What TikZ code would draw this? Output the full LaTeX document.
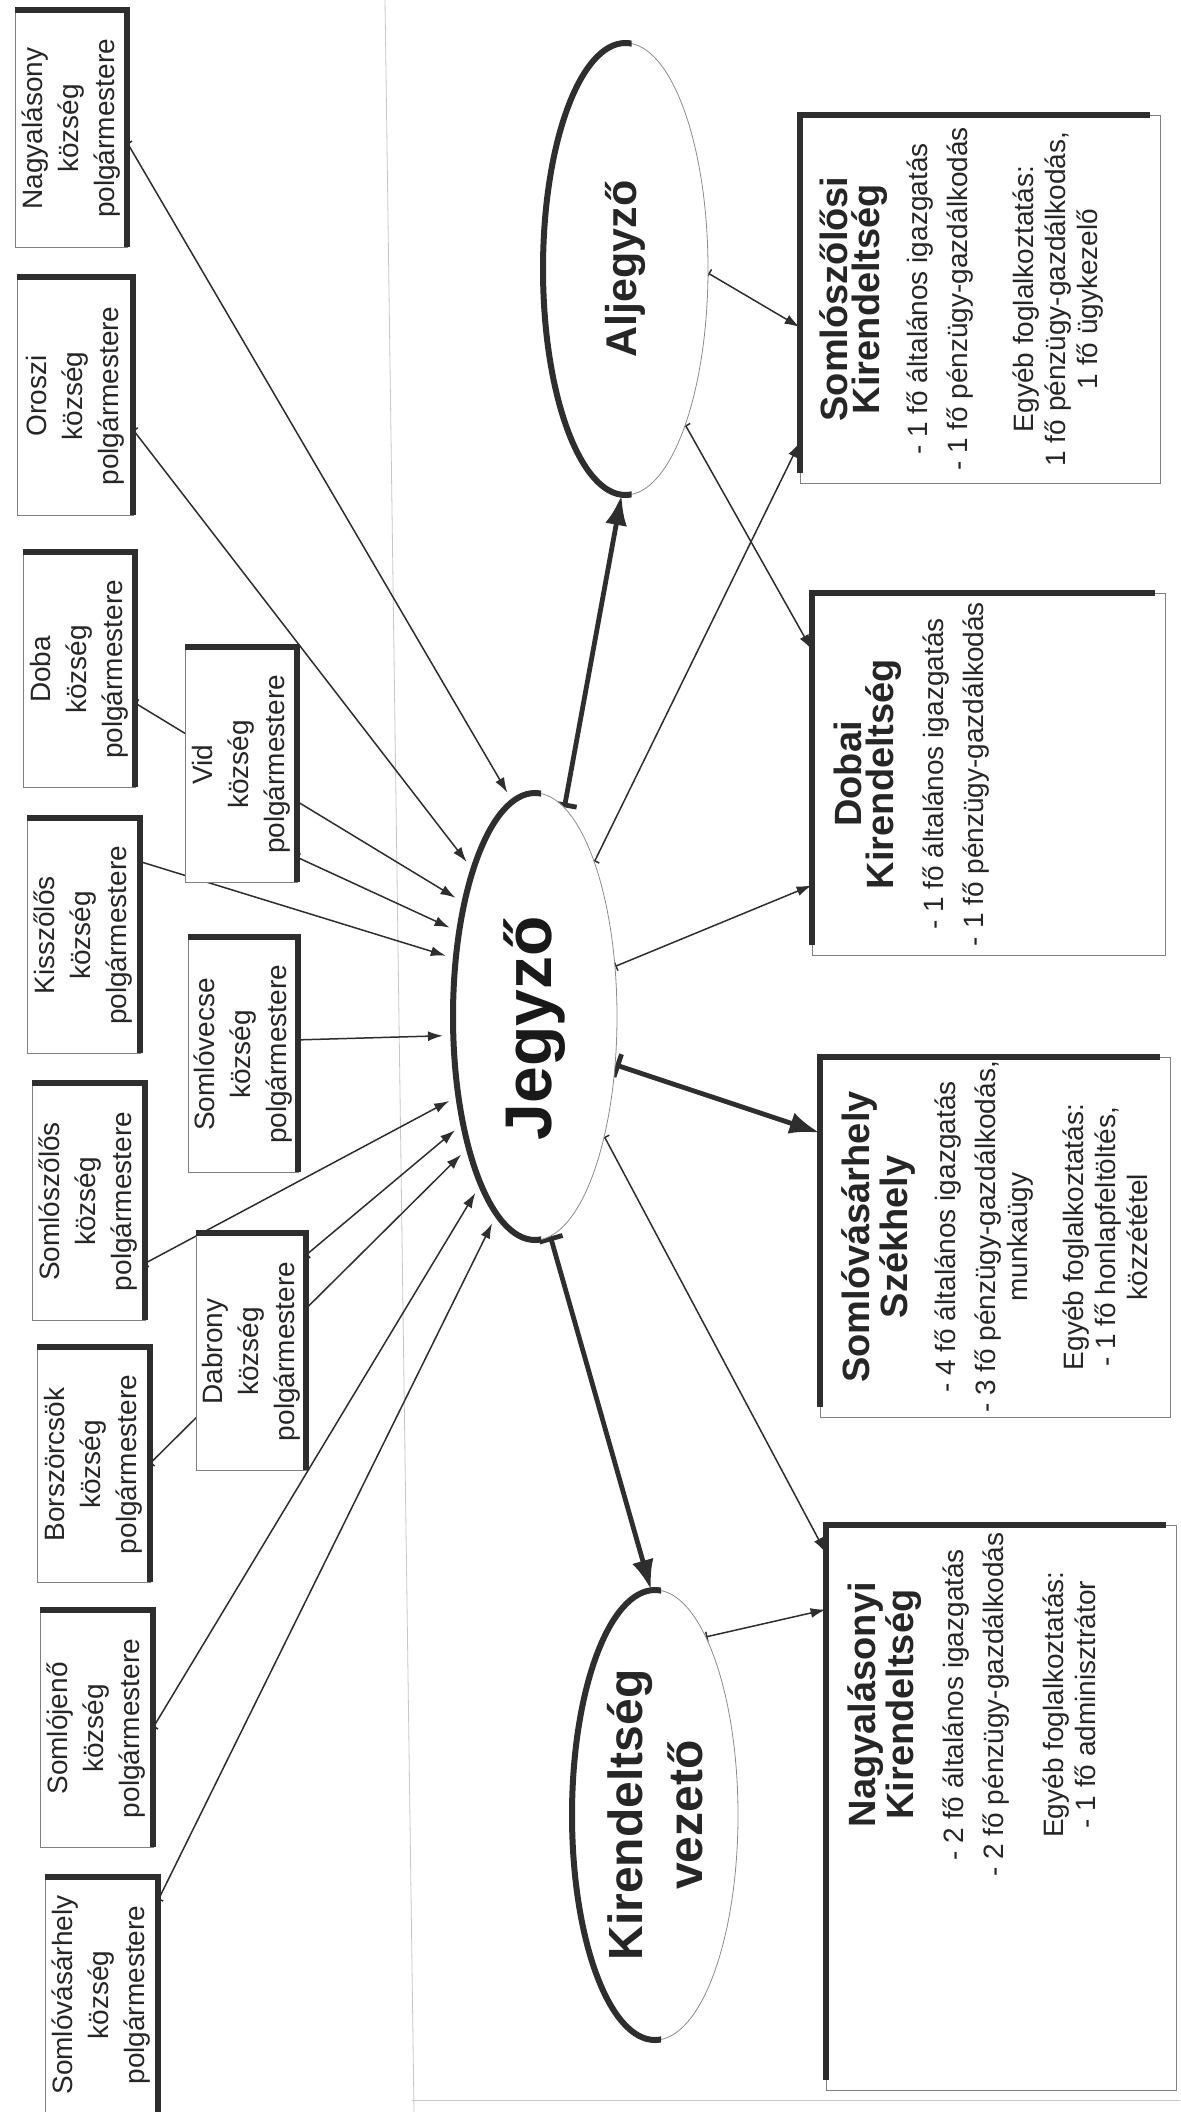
\documentclass[tikz,border=0pt]{standalone}
\usepackage{fontspec}
\setmainfont{Liberation Sans}
\usetikzlibrary{shapes.geometric,arrows.meta,calc}
\pgfdeclarelayer{background}
\pgfsetlayers{background,main}
\newcommand\rbTitle{\bfseries\fontsize{19}{19.5}\selectfont}
\newcommand\rbBody{\normalfont\fontsize{14}{16}\selectfont}
\begin{document}
\begin{tikzpicture}[x=0.5pt,y=-0.5pt,
  mbox/.style={rectangle, draw=black!50, line width=0.4pt, fill=white, inner sep=0pt},
  mtext/.style={rotate=90, align=center, text=black!85, font=\fontsize{14}{18}\selectfont},
  rbox/.style={rectangle, draw=black!50, line width=0.4pt, fill=white, inner sep=0pt},
  rtext/.style={rotate=90, align=center, anchor=north, text=black!85, font=\rbBody, inner sep=0pt},
  oval/.style={ellipse, draw=black!45, line width=0.4pt, fill=white, inner sep=0pt},
  shadeline/.style={draw=black!82, line width=3pt},
  conn/.style={draw=black!82, line width=0.75pt, {Bar[width=5pt]}-{Latex[length=7.5pt,width=5pt]}},
  bigconn/.style={draw=black!82, line width=2.4pt, {Bar[width=12pt,line width=2.4pt]}-{Latex[length=15pt,width=11pt]}},
  pageline/.style={draw=black!22, line width=0.4pt},
]
\useasboundingbox (0,0) rectangle (1180,2112);

% ---------- ellipses ----------
\node[oval, minimum width=82.5pt, minimum height=226pt,
  label={[rotate=90, text=black!85, font=\bfseries\fontsize{21.5}{24}\selectfont]center:Aljegyző}] (alj) at (625.5,269) {};
\node[oval, minimum width=82pt, minimum height=223.5pt,
  label={[rotate=90, xshift=-6pt, text=black!90, font=\bfseries\fontsize{33}{36}\selectfont]center:Jegyző}] (jeg) at (535,1016.5) {};
\node[oval, minimum width=83pt, minimum height=225pt,
  label={[rotate=90, align=center, text=black!85, font=\bfseries\fontsize{24}{30}\selectfont]center:{Kirendeltség\\vezető}}] (vez) at (655,1815) {};

\foreach \e/\rx/\ry in {alj/41.25pt/113pt, jeg/41pt/111.75pt, vez/41.5pt/112.5pt}{
  \begin{scope}
    \clip ($(\e.center)+(6,-250)$) rectangle ($(\e.center)+(-110,250)$);
    \draw[draw=black!82, line width=3pt] (\e.center) ellipse [x radius=\rx, y radius=\ry];
  \end{scope}
}

% ---------- mayor boxes ----------
\node[mbox, minimum width=56pt, minimum height=118.5pt, label={[mtext]center:{Nagyalásony\\község\\polgármestere}}] (nag) at (71,128.5) {};
\node[mbox, minimum width=58pt, minimum height=119pt, label={[mtext]center:{Oroszi\\község\\polgármestere}}] (oro) at (75,396) {};
\node[mbox, minimum width=56pt, minimum height=117.5pt, label={[mtext]center:{Doba\\község\\polgármestere}}] (dob) at (79,669.5) {};
\node[mbox, minimum width=56.5pt, minimum height=117.5pt, label={[mtext]center:{Kisszőlős\\község\\polgármestere}}] (kis) at (83.5,935.5) {};
\node[mbox, minimum width=56.5pt, minimum height=118.5pt, label={[mtext]center:{Somlószőlős\\község\\polgármestere}}] (ssz) at (88.5,1201.5) {};
\node[mbox, minimum width=56.5pt, minimum height=117.5pt, label={[mtext]center:{Borszörcsök\\község\\polgármestere}}] (bor) at (93.5,1464.5) {};
\node[mbox, minimum width=56.5pt, minimum height=118.5pt, label={[mtext]center:{Somlójenő\\község\\polgármestere}}] (sje) at (96.5,1728.5) {};
\node[mbox, minimum width=56.5pt, minimum height=118pt, label={[mtext]center:{Somlóvásárhely\\község\\polgármestere}}] (svh) at (101.5,1995) {};
\node[mbox, minimum width=56pt, minimum height=117.5pt, label={[mtext]center:{Vid\\község\\polgármestere}}] (vid) at (241,764.5) {};
\node[mbox, minimum width=55pt, minimum height=117.5pt, label={[mtext]center:{Somlóvecse\\község\\polgármestere}}] (sve) at (243,1054.5) {};
\node[mbox, minimum width=55pt, minimum height=118.5pt, label={[mtext]center:{Dabrony\\község\\polgármestere}}] (dab) at (251,1351.5) {};

\foreach \b in {nag,oro,dob,kis,ssz,bor,sje,svh,vid,sve,dab}{
  \draw[shadeline] (\b.north west) -- (\b.north east) -- (\b.south east);
}

% ---------- office boxes ----------
\node[rbox, minimum width=180pt, minimum height=184pt] (sszk) at (980,299) {};
\node[rbox, minimum width=176.5pt, minimum height=181pt] (dobk) at (988.5,774) {};
\node[rbox, minimum width=175pt, minimum height=180pt] (szek) at (995,1237) {};
\node[rbox, minimum width=175pt, minimum height=282.5pt] (nagk) at (1001,1807.5) {};

\foreach \b in {sszk,dobk,szek,nagk}{
  \draw[shadeline] ($(\b.south west)+(0,-10)$) -- (\b.north west) -- ($(\b.north east)+(-10,0)$);
}

\node[rtext] (sszkt) at ($(sszk.west)+(20,0)$) {\rbTitle Somlószőlősi\\\rbTitle Kirendeltség\\[8pt]\rbBody - 1 fő általános igazgatás\\[4pt]- 1 fő pénzügy-gazdálkodás\\[17pt]Egyéb foglalkoztatás:\\1 fő pénzügy-gazdálkodás,\\1 fő ügykezelő};
\node[rtext] (dobkt) at ($(dobk.west)+(22,0)$) {\rbTitle Dobai\\\rbTitle Kirendeltség\\[9pt]\rbBody - 1 fő általános igazgatás\\[4pt]- 1 fő pénzügy-gazdálkodás};
\node[rtext] (szekt) at ($(szek.west)+(22,0)$) {\rbTitle Somlóvásárhely\\\rbTitle Székhely\\[8pt]\rbBody - 4 fő általános igazgatás\\[4pt]- 3 fő pénzügy-gazdálkodás,\\munkaügy\\[12pt]Egyéb foglalkoztatás:\\- 1 fő honlapfeltöltés,\\közzététel};
\node[rtext] (nagkt) at ($(nagk.north west)+(22,180)$) {\rbTitle Nagyalásonyi\\\rbTitle Kirendeltség\\[9pt]\rbBody - 2 fő általános igazgatás\\[4pt]- 2 fő pénzügy-gazdálkodás\\[14pt]Egyéb foglalkoztatás:\\- 1 fő adminisztrátor};

% ---------- connectors ----------
\begin{pgfonlayer}{background}
\fill[white] (0,0) rectangle (1180,2112);
\draw[pageline] (385,0) -- (414,2112);
\draw[pageline] (412,2100) -- (1180,2100);

\draw[conn, shorten >=5pt] ($(nag.north east)!0.561!(nag.south east)$) -- (jeg.96);
\draw[conn, shorten >=5pt] ($(oro.north east)!0.643!(oro.south east)$) -- (jeg.113);
\draw[conn, shorten >=5pt] ($(dob.north east)!0.643!(dob.south east)$) -- (jeg.122);
\draw[conn, shorten >=5pt] ($(vid.north east)!0.894!(vid.south east)$) -- (jeg.132);
\draw[conn, shorten >=5pt] ($(kis.north east)!0.187!(kis.south east)$) -- (jeg.144);
\draw[conn, shorten >=5pt] ($(sve.north east)!0.438!(sve.south east)$) -- (jeg.193);
\draw[conn, shorten >=5pt] ($(ssz.north east)!0.759!(ssz.south east)$) -- (jeg.226);
\draw[conn, shorten >=5pt] ($(dab.north east)!0.093!(dab.south east)$) -- (jeg.236);
\draw[conn, shorten >=5pt] ($(bor.north east)!0.494!(bor.south east)$) -- (jeg.243);
\draw[conn, shorten >=5pt] ($(sje.north east)!0.494!(sje.south east)$) -- (jeg.252);
\draw[conn, shorten >=5pt] ($(svh.north east)!0.097!(svh.south east)$) -- (jeg.259);

\draw[bigconn] (jeg.82) -- (alj.269);
\draw[conn] (jeg.69) -- ($(sszk.north west)!0.889!(sszk.south west)$);
\draw[conn] (alj.357) -- ($(sszk.north west)!0.576!(sszk.south west)$);
\draw[conn] (alj.291) -- ($(dobk.north west)!0.157!(dobk.south west)$);
\draw[conn] (jeg.32) -- ($(dobk.north west)!0.807!(dobk.south west)$);
\draw[bigconn] (jeg.329) -- ($(szek.north west)!0.211!(szek.south west)$);
\draw[conn] (jeg.300) -- ($(nagk.north west)+(0,28)$);
\draw[bigconn] (jeg.274) -- (vez.91);
\draw[conn] (vez.74) -- ($(nagk.north west)+(0,85)$);
\end{pgfonlayer}
\end{tikzpicture}
\end{document}
